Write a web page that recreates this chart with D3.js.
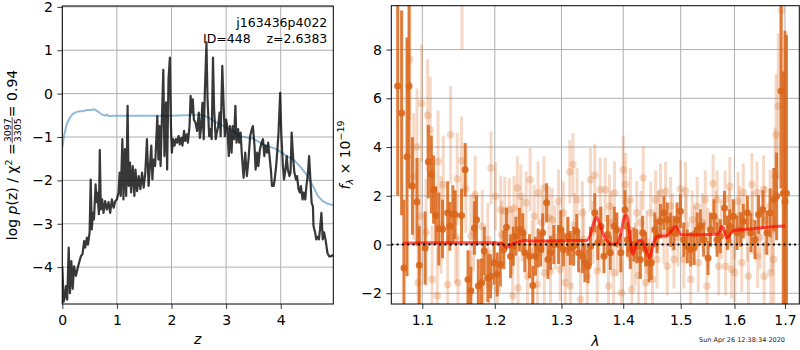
<!DOCTYPE html>
<html><head><meta charset="utf-8">
<script src="https://cdn.jsdelivr.net/npm/d3@7"></script>
<style>body{margin:0;background:#fff}svg{display:block}text{font-family:"DejaVu Sans",sans-serif}</style>
</head><body><svg id="c" width="800" height="350"></svg>
<script>
// ---------- data ----------
const pzTicksX = [0,1,2,3,4];
const pzTicksY = [-4,-3,-2,-1,0,1,2];
const specTicksX = [1.1,1.2,1.3,1.4,1.5,1.6,1.7];
const specTicksY = [-2,0,2,4,6,8];
// log p(z) curve: [z, value]
const pzCurve = [[0,-3.98],[0.025,-4.8],[0.045,-4.7],[0.067,-4.44],[0.09,-4.75],[0.117,-3.55],[0.14,-4.6],[0.166,-3.86],[0.19,-4.5],[0.215,-3.98],[0.25,-4.2],[0.29,-3.98],[0.34,-3.75],[0.37,-3.7],[0.40,-3.4],[0.42,-3.55],[0.45,-3.32],[0.47,-3.48],[0.50,-3.2],[0.52,-1.98],[0.54,-3.13],[0.56,-2.75],[0.58,-2.9],[0.61,-2.09],[0.626,-2.5],[0.644,-2.28],[0.67,-2.78],[0.687,-1.3],[0.705,-2.67],[0.73,-2.44],[0.755,-2.75],[0.785,-2.48],[0.816,-2.67],[0.847,-2.5],[0.877,-2.75],[0.908,-2.44],[0.94,-2.63],[0.97,-2.48],[1.0,-2.44],[1.03,-2.28],[1.05,-1.82],[1.07,-2.36],[1.10,-1.05],[1.12,-2.44],[1.147,-1.28],[1.17,-2.36],[1.196,-0.28],[1.215,-2.13],[1.24,-1.59],[1.26,-2.28],[1.29,-1.67],[1.32,-2.36],[1.34,-1.75],[1.37,-2.25],[1.40,-1.9],[1.43,-2.2],[1.46,-1.82],[1.49,-2.17],[1.52,-1.82],[1.55,-1.05],[1.58,-2.13],[1.60,-1.75],[1.63,-1.2],[1.65,-1.98],[1.67,-1.52],[1.70,-1.67],[1.74,-0.52],[1.76,-1.52],[1.78,-0.75],[1.80,-1.67],[1.82,-0.75],[1.85,0.55],[1.87,-1.44],[1.90,-0.2],[1.92,-1.75],[1.945,0.33],[1.97,0.83],[1.99,-0.75],[2.006,-1.36],[2.03,-1.05],[2.055,-1.2],[2.08,-1.05],[2.10,-1.13],[2.13,-0.98],[2.15,-1.17],[2.18,-1.02],[2.20,-1.2],[2.23,-0.86],[2.25,-1.09],[2.28,-0.94],[2.30,-1.13],[2.33,-0.75],[2.35,-0.05],[2.37,-0.44],[2.39,-0.13],[2.41,-0.6],[2.44,-0.67],[2.47,-0.86],[2.50,-0.44],[2.52,-1.02],[2.54,-0.82],[2.566,-0.21],[2.59,-1.05],[2.61,0.02],[2.64,1.18],[2.66,-0.13],[2.69,-0.98],[2.71,-0.82],[2.735,-1.05],[2.76,0.83],[2.78,-0.36],[2.81,-1.05],[2.83,-0.9],[2.855,-0.75],[2.88,-0.44],[2.90,-0.98],[2.93,0.64],[2.95,-0.13],[2.976,-0.98],[3.0,-0.6],[3.02,-0.75],[3.05,-1.44],[3.07,-0.75],[3.10,-1.36],[3.12,-0.75],[3.145,-1.05],[3.17,-0.28],[3.19,-1.13],[3.22,-0.82],[3.24,-1.13],[3.265,-0.9],[3.29,-1.44],[3.32,-1.94],[3.35,-1.36],[3.38,-1.9],[3.41,-1.52],[3.44,-0.98],[3.47,-0.82],[3.49,-0.75],[3.52,-1.2],[3.54,-1.75],[3.57,-1.36],[3.59,-1.67],[3.62,-1.28],[3.65,-1.13],[3.675,-1.05],[3.70,-1.44],[3.72,-1.2],[3.75,-1.36],[3.77,-1.13],[3.795,-1.44],[3.82,-1.75],[3.84,-2.13],[3.87,-2.13],[3.89,-1.98],[3.916,-1.67],[3.94,-1.28],[3.96,-0.9],[3.99,0.02],[4.01,-0.9],[4.04,-1.67],[4.06,-1.98],[4.08,-1.82],[4.11,-1.44],[4.13,-1.75],[4.16,-1.9],[4.18,-1.82],[4.20,-0.9],[4.23,-1.52],[4.25,-1.82],[4.28,-1.98],[4.30,-1.9],[4.325,-2.2],[4.35,-2.28],[4.37,-2.13],[4.40,-2.44],[4.42,-2.28],[4.45,-2.44],[4.47,-2.13],[4.494,-1.9],[4.52,-1.44],[4.55,-2.13],[4.566,-2.52],[4.59,-2.6],[4.60,-3.05],[4.63,-3.2],[4.65,-3.36],[4.67,-3.3],[4.70,-3.36],[4.72,-3.13],[4.745,-2.75],[4.77,-3.36],[4.795,-3.2],[4.825,-3.4],[4.855,-3.67],[4.885,-3.75],[4.92,-3.75],[4.96,-3.72]];
// prior / smooth curve: [z, value]
const priorCurve = [[0,-1.25],[0.03,-0.98],[0.08,-0.71],[0.14,-0.55],[0.2,-0.46],[0.29,-0.41],[0.39,-0.4],[0.45,-0.38],[0.51,-0.38],[0.57,-0.36],[0.6,-0.37],[0.66,-0.42],[0.72,-0.48],[0.785,-0.51],[0.816,-0.48],[0.85,-0.52],[0.94,-0.51],[1.5,-0.51],[2.0,-0.51],[2.46,-0.49],[2.52,-0.48],[2.64,-0.53],[2.89,-0.71],[3.13,-0.86],[3.25,-0.98],[3.5,-1.04],[3.68,-1.17],[3.92,-1.28],[4.11,-1.44],[4.23,-1.52],[4.35,-1.67],[4.47,-1.86],[4.59,-2.13],[4.68,-2.36],[4.77,-2.48],[4.86,-2.54],[4.96,-2.57]];
// spectrum, main grism: [wavelength, flux, error]
const specMain = [[1.068,6.5,4.5],[1.073,5.4,4.2],[1.076,-0.96,2.8],[1.080,3.6,4.9],[1.0826,6.5,4.2],[1.087,2.4,2.0],[1.093,1.75,1.8],[1.096,-0.85,1.6],[1.1037,-0.14,1.5],[1.108,3.4,1.5],[1.112,2.87,1.6],[1.115,2.25,1.4],[1.118,1.19,1.2],[1.122,0.64,1.5],[1.127,0.64,1.2],[1.134,1.3,1.3],[1.137,0.75,1.0],[1.141,1.23,1.2],[1.144,1.23,1.0],[1.153,1.19,1.1],[1.158,3.07,1.1],[1.162,-1.43,1.2],[1.166,-1.9,1.0],[1.171,0.68,1.1],[1.174,1.02,1.0],[1.1765,-1.7,1.1],[1.181,-1.57,1.0],[1.185,-0.27,1.0],[1.190,-1.37,1.0],[1.194,-1.3,0.9],[1.199,-0.75,0.9],[1.2035,-1.23,0.9],[1.208,-0.82,0.9],[1.213,-0.2,0.8],[1.217,0.71,0.8],[1.223,-0.48,0.9],[1.227,-0.07,0.8],[1.231,0.34,0.8],[1.236,0.61,0.9],[1.241,0.48,0.8],[1.244,-0.34,0.8],[1.251,-0.48,0.9],[1.256,-1.68,0.8],[1.260,-0.48,0.8],[1.264,-0.14,0.8],[1.268,-0.2,0.7],[1.271,0.48,0.8],[1.277,1.71,0.8],[1.279,-0.61,0.8],[1.283,-0.34,0.7],[1.288,0.0,0.8],[1.2955,0.0,0.8],[1.299,0.61,0.8],[1.303,-0.2,0.7],[1.310,0.34,0.8],[1.314,-0.14,0.7],[1.319,-0.07,0.8],[1.324,0.55,0.7],[1.327,-0.34,0.8],[1.333,-0.48,0.7],[1.337,-0.75,0.8],[1.342,-0.89,0.7],[1.346,-0.07,0.8],[1.353,1.3,0.8],[1.358,0.07,0.7],[1.363,0.75,0.8],[1.368,-0.48,0.7],[1.374,0.41,0.8],[1.3785,-0.34,0.7],[1.385,0.75,0.8],[1.389,0.61,0.7],[1.396,-0.34,0.8],[1.403,1.43,0.8],[1.407,0.2,0.7],[1.412,-0.2,0.8],[1.418,0.0,0.7],[1.423,-0.07,0.7],[1.429,-0.61,0.8],[1.433,0.48,0.7],[1.438,-0.2,0.7],[1.444,-0.75,0.8],[1.448,-0.75,0.7],[1.454,0.61,0.7],[1.458,0.34,0.7],[1.464,0.96,0.7],[1.470,1.3,0.7],[1.476,1.02,0.7],[1.482,0.61,0.7],[1.488,0.48,0.7],[1.4935,1.02,0.7],[1.4995,1.37,0.7],[1.5055,0.2,0.7],[1.512,-0.07,0.7],[1.518,-0.2,0.7],[1.524,-0.14,0.7],[1.530,0.61,0.7],[1.536,0.75,0.7],[1.542,0.2,0.7],[1.550,-0.55,0.7],[1.5545,0.61,0.7],[1.561,1.16,0.7],[1.567,0.2,0.7],[1.573,0.34,0.7],[1.581,1.5,0.7],[1.5865,0.48,0.7],[1.591,0.75,0.7],[1.5975,1.16,0.7],[1.605,0.48,0.7],[1.612,0.61,0.7],[1.617,0.96,0.7],[1.625,1.3,0.7],[1.632,0.48,0.8],[1.640,0.2,0.8],[1.647,1.23,0.8],[1.6555,1.43,0.8],[1.6635,0.48,0.9],[1.670,1.3,1.0],[1.6775,1.84,1.3],[1.683,1.98,1.8],[1.692,6.3,4.0],[1.6965,2.1,5.0],[1.700,1.77,7.0],[1.703,2.1,6.5]];
// spectrum, second grism (faded): [wavelength, flux, error]
const specAlt = [[1.0836,7.6,2.5],[1.0887,2.8,2.6],[1.093,4.0,2.4],[1.0945,-1.57,2.4],[1.097,1.16,2.4],[1.099,5.8,2.4],[1.105,0.5,2.2],[1.107,5.3,2.3],[1.1106,4.7,2.2],[1.113,-1.43,2.2],[1.120,-2.1,2.0],[1.121,3.4,2.1],[1.125,0.8,2.0],[1.128,2.46,2.0],[1.134,-1.64,2.0],[1.138,4.5,2.0],[1.145,0.3,1.9],[1.147,2.7,1.9],[1.148,-1.57,1.9],[1.153,3.44,1.8],[1.1537,12,4.0],[1.159,2.28,1.8],[1.165,-1.98,1.7],[1.166,0.34,1.7],[1.170,0.5,1.6],[1.172,2.05,1.6],[1.182,0.75,1.5],[1.184,-1.5,1.5],[1.190,0.2,1.5],[1.192,-1.7,1.5],[1.1945,3.14,1.5],[1.201,1.98,1.4],[1.2035,-1.84,1.4],[1.2085,1.43,1.4],[1.210,0.4,1.4],[1.2144,1.37,1.4],[1.221,1.43,1.3],[1.225,0.1,1.3],[1.226,-2.1,1.3],[1.228,1.5,1.3],[1.233,2.32,1.3],[1.234,-1.78,1.3],[1.238,1.98,1.3],[1.240,0.6,1.3],[1.246,1.71,1.3],[1.248,-1.3,1.3],[1.252,2.66,1.3],[1.255,-0.3,1.3],[1.258,1.16,1.3],[1.263,-1.64,1.3],[1.264,2.12,1.3],[1.270,0.9,1.3],[1.273,2.32,1.3],[1.2735,-1.16,1.3],[1.2805,1.09,1.3],[1.283,-1.09,1.3],[1.2855,1.02,1.3],[1.290,0.3,1.3],[1.2955,1.78,1.3],[1.298,-1.02,1.3],[1.303,1.3,1.3],[1.306,-1.57,1.3],[1.310,-0.2,1.3],[1.313,2.98,1.3],[1.314,-1.7,1.3],[1.318,3.28,1.3],[1.320,0.8,1.3],[1.3245,1.84,1.3],[1.330,-2.25,1.3],[1.333,1.3,1.3],[1.335,0.2,1.3],[1.341,-1.3,1.3],[1.346,2.66,1.3],[1.350,0.5,1.3],[1.353,2.84,1.3],[1.357,-1.09,1.3],[1.360,0.2,1.3],[1.362,2.25,1.3],[1.370,2.25,1.3],[1.3755,-1.7,1.3],[1.377,1.57,1.3],[1.380,0.9,1.3],[1.384,-1.16,1.3],[1.3855,2.12,1.3],[1.390,0.0,1.3],[1.397,-1.98,1.3],[1.400,3.07,1.4],[1.404,2.46,1.3],[1.410,0.6,1.3],[1.412,1.84,1.3],[1.4146,-1.84,1.3],[1.420,-0.4,1.3],[1.423,1.3,1.3],[1.426,-1.27,1.3],[1.430,0.9,1.3],[1.434,2.73,1.3],[1.438,-1.57,1.3],[1.440,0.1,1.3],[1.447,1.3,1.3],[1.450,-1.43,1.2],[1.4555,1.84,1.2],[1.458,-0.61,1.2],[1.460,1.0,1.2],[1.464,2.12,1.2],[1.470,0.4,1.2],[1.473,2.19,1.2],[1.476,-0.89,1.2],[1.482,1.57,1.2],[1.485,0.9,1.2],[1.488,-0.61,1.2],[1.495,0.3,1.2],[1.4995,2.28,1.2],[1.5055,-0.61,1.2],[1.5086,2.19,1.2],[1.510,0.8,1.2],[1.518,-1.43,1.2],[1.521,1.02,1.2],[1.525,0.4,1.2],[1.530,1.57,1.2],[1.532,-0.75,1.2],[1.540,0.9,1.2],[1.545,1.84,1.2],[1.548,-1.7,1.2],[1.550,0.3,1.2],[1.5595,2.5,1.2],[1.565,1.0,1.2],[1.567,1.84,1.2],[1.570,-0.89,1.2],[1.575,0.6,1.2],[1.582,1.84,1.2],[1.583,-0.89,1.2],[1.590,1.1,1.2],[1.591,2.39,1.2],[1.5945,-1.02,1.2],[1.600,0.6,1.2],[1.6007,-1.16,1.2],[1.607,1.78,1.2],[1.610,1.2,1.2],[1.614,-0.75,1.2],[1.617,2.14,1.2],[1.625,0.5,1.2],[1.627,-1.3,1.2],[1.634,2.46,1.3],[1.635,0.9,1.3],[1.644,2.12,1.3],[1.645,-0.48,1.3],[1.650,0.3,1.3],[1.657,2.25,1.4],[1.658,-1.3,1.4],[1.660,1.0,1.4],[1.670,1.57,1.5],[1.6715,-1.16,1.6],[1.675,0.6,1.7],[1.677,-0.61,1.8],[1.680,2.8,2.0],[1.682,4.5,2.5],[1.6865,5.67,3.0],[1.693,9.6,4.0]];
// best-fit model: [wavelength, flux]
const specModel = [[1.075,0.05],[1.10,0.07],[1.15,0.07],[1.20,0.07],[1.210,0.05],[1.217,-0.12],[1.224,0.0],[1.235,0.12],[1.245,0.17],[1.252,0.14],[1.262,0.15],[1.30,0.16],[1.340,0.17],[1.346,0.4],[1.352,0.95],[1.356,1.12],[1.361,0.85],[1.368,0.35],[1.376,0.08],[1.383,0.0],[1.390,0.05],[1.396,0.45],[1.402,1.15],[1.406,1.2],[1.410,0.6],[1.416,-0.4],[1.422,0.0],[1.428,0.18],[1.432,0.15],[1.438,-0.2],[1.4445,-0.55],[1.450,-0.15],[1.455,0.25],[1.460,0.34],[1.475,0.36],[1.483,0.55],[1.4906,0.75],[1.4955,0.6],[1.5,0.41],[1.52,0.4],[1.545,0.41],[1.567,0.42],[1.572,0.55],[1.576,0.75],[1.580,0.6],[1.585,0.27],[1.590,0.35],[1.5975,0.58],[1.62,0.62],[1.64,0.66],[1.66,0.7],[1.68,0.74],[1.700,0.76]];
const labelId = "j163436p4022";
const labelZ = "ID=448    z=2.6383";
const chi2Num = "3097", chi2Den = "3305", chi2Val = "0.94";
const stamp = "Sun Apr 26 12:38:34 2020";

// ---------- drawing ----------
const svg = d3.select("#c");
const FS = 14;
const grid = "#b0b0b0";
const orange = "#d9661a";

function frame(g, x, y, xt, yt) {
  const [x0,x1] = x.range(), [y1,y0] = y.range();
  g.append("g").selectAll("line").data(xt).join("line")
    .attr("x1",d=>x(d)).attr("x2",d=>x(d)).attr("y1",y0).attr("y2",y1)
    .attr("stroke",grid).attr("stroke-width",1);
  g.append("g").selectAll("line").data(yt).join("line")
    .attr("y1",d=>y(d)).attr("y2",d=>y(d)).attr("x1",x0).attr("x2",x1)
    .attr("stroke",grid).attr("stroke-width",1);
}
function axes(g, x, y, xt, yt, xfmt, yfmt) {
  const [x0,x1] = x.range(), [y1,y0] = y.range();
  const ax = d3.axisBottom(x).tickValues(xt).tickFormat(xfmt).tickSize(4.9).tickPadding(6.5);
  const ay = d3.axisLeft(y).tickValues(yt).tickFormat(yfmt).tickSize(4.9).tickPadding(4.5);
  const gx = g.append("g").attr("transform",`translate(0,${y1})`).call(ax);
  const gy = g.append("g").attr("transform",`translate(${x0},0)`).call(ay);
  [gx,gy].forEach(a=>{
    a.select(".domain").remove();
    a.selectAll("text").attr("font-size",FS).attr("fill","#000").attr("font-family","DejaVu Sans");
    a.selectAll("line").attr("stroke","#000").attr("stroke-width",0.8);
  });
  g.append("rect").attr("x",x0).attr("y",y0).attr("width",x1-x0).attr("height",y1-y0)
    .attr("fill","none").attr("stroke","#000").attr("stroke-width",1);
}
const minusFmt = d => (d<0? "\u2212"+Math.abs(d) : String(d));

// ----- left panel -----
const xL = d3.scaleLinear().domain([0,4.963]).range([62.3,333.3]);
const yL = d3.scaleLinear().domain([-4.85,2.02]).range([304,6]);
const gL = svg.append("g");
frame(gL,xL,yL,pzTicksX,pzTicksY);
svg.append("clipPath").attr("id","clipL").append("rect")
  .attr("x",62.3).attr("y",6).attr("width",271).attr("height",298);
const lineL = d3.line().x(d=>xL(d[0])).y(d=>yL(d[1]));
gL.append("path").attr("clip-path","url(#clipL)").datum(priorCurve).attr("d",lineL)
  .attr("fill","none").attr("stroke","#1f77b4").attr("stroke-opacity",0.5).attr("stroke-width",2);
gL.append("path").attr("clip-path","url(#clipL)").datum(pzCurve).attr("d",lineL)
  .attr("fill","none").attr("stroke","#000").attr("stroke-opacity",0.78).attr("stroke-width",2.2).attr("stroke-linejoin","round");
gL.append("text").attr("x",xL(4.963)-6).attr("y",27).attr("text-anchor","end").attr("font-size",12.5).text(labelId);
gL.append("text").attr("x",xL(4.963)-6).attr("y",43).attr("text-anchor","end").attr("font-size",12.5)
  .attr("xml:space","preserve").style("white-space","pre").text(labelZ);
axes(gL,xL,yL,pzTicksX,pzTicksY,d=>String(d),minusFmt);
gL.append("text").attr("x",(62.3+333.3)/2).attr("y",344).attr("text-anchor","middle")
  .attr("font-size",FS).attr("font-style","italic").text("z");

// y label with fraction, rotated
{
  const g = svg.append("g").attr("transform","translate(17,155) rotate(-90)");
  const t1 = g.append("text").attr("font-size",FS).attr("y",0);
  t1.append("tspan").text("log ");
  t1.append("tspan").attr("font-style","italic").text("p");
  t1.append("tspan").text("(z) / \u03c7");
  t1.append("tspan").attr("font-size",9.5).attr("dy",-5.5).text("2");
  t1.append("tspan").attr("dy",5.5).text(" = ");
  const w1 = t1.node().getComputedTextLength();
  const fs2 = 9.5;
  const tn = g.append("text").attr("font-size",fs2).attr("text-anchor","middle").text(chi2Num);
  const td = g.append("text").attr("font-size",fs2).attr("text-anchor","middle").text(chi2Den);
  const wf = Math.max(tn.node().getComputedTextLength(), td.node().getComputedTextLength());
  const t3 = g.append("text").attr("font-size",FS).text(" = " + chi2Val);
  const w3 = t3.node().getComputedTextLength();
  const total = w1 + wf + 2 + w3;
  const s = -total/2;
  t1.attr("x",s);
  const cx = s + w1 + wf/2 + 1;
  tn.attr("x",cx).attr("y",-6.5);
  td.attr("x",cx).attr("y",4);
  g.append("line").attr("x1",s+w1).attr("x2",s+w1+wf+2).attr("y1",-4.8).attr("y2",-4.8)
    .attr("stroke","#000").attr("stroke-width",0.7);
  t3.attr("x",s+w1+wf+2);
}

// ----- right panel -----
const xR = d3.scaleLog().domain([1.0598,1.7295]).range([391.3,799.3]);
const yR = d3.scaleLinear().domain([-2.44,9.8]).range([304,5.7]);
const gR = svg.append("g");
frame(gR,xR,yR,specTicksX,specTicksY);
svg.append("clipPath").attr("id","clipR").append("rect")
  .attr("x",391.3).attr("y",5.7).attr("width",408).attr("height",298.3);
const gd = gR.append("g").attr("clip-path","url(#clipR)");
// faded series
gd.append("g").selectAll("line").data(specAlt).join("line")
  .attr("x1",d=>xR(d[0])).attr("x2",d=>xR(d[0]))
  .attr("y1",d=>yR(d[1]-d[2])).attr("y2",d=>yR(d[1]+d[2]))
  .attr("stroke",orange).attr("stroke-opacity",0.25).attr("stroke-width",3);
gd.append("g").selectAll("circle").data(specAlt).join("circle")
  .attr("cx",d=>xR(d[0])).attr("cy",d=>yR(d[1])).attr("r",3.8)
  .attr("fill",orange).attr("fill-opacity",0.25);
// main series
gd.append("g").selectAll("line").data(specMain).join("line")
  .attr("x1",d=>xR(d[0])).attr("x2",d=>xR(d[0]))
  .attr("y1",d=>yR(d[1]-d[2])).attr("y2",d=>yR(d[1]+d[2]))
  .attr("stroke",orange).attr("stroke-opacity",0.85).attr("stroke-width",3);
gd.append("g").selectAll("circle").data(specMain).join("circle")
  .attr("cx",d=>xR(d[0])).attr("cy",d=>yR(d[1])).attr("r",3.5)
  .attr("fill",orange).attr("fill-opacity",0.9);
// model
gd.append("path").datum(specModel)
  .attr("d",d3.line().curve(d3.curveMonotoneX).x(d=>xR(d[0])).y(d=>yR(d[1])))
  .attr("fill","none").attr("stroke","#ff0000").attr("stroke-opacity",0.65).attr("stroke-width",3);
// zero line
gd.append("line").attr("x1",391.3).attr("x2",799.3).attr("y1",yR(0)).attr("y2",yR(0))
  .attr("stroke","#000").attr("stroke-width",2).attr("stroke-dasharray","2,3.3");
axes(gR,xR,yR,specTicksX,specTicksY,d3.format(".1f"),minusFmt);
gR.append("text").attr("x",(391.3+799.3)/2).attr("y",346).attr("text-anchor","middle")
  .attr("font-size",FS).attr("font-style","italic").text("\u03bb");
{
  const t = svg.append("text").attr("transform","translate(350,155) rotate(-90)")
    .attr("text-anchor","middle").attr("font-size",FS);
  t.append("tspan").attr("font-style","italic").text("f");
  t.append("tspan").attr("font-style","italic").attr("font-size",9.5).attr("dy",3).text("\u03bb");
  t.append("tspan").attr("dy",-3).text(" \u00d7 10");
  t.append("tspan").attr("font-size",9.5).attr("dy",-6).text("\u221219");
}
svg.append("text").attr("x",742).attr("y",342).attr("text-anchor","middle")
  .attr("font-size",6.5).attr("fill","#222").text(stamp);
</script></body></html>
